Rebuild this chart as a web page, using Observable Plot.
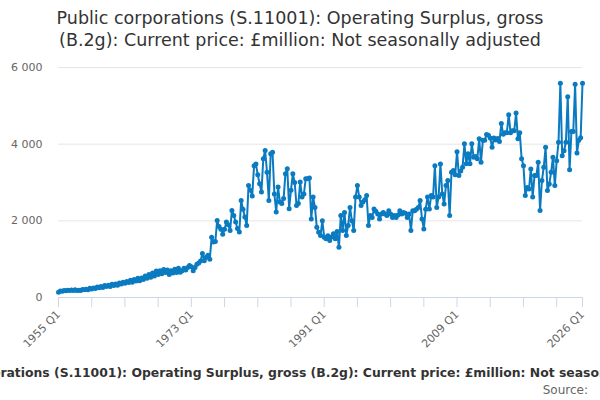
<!DOCTYPE html>
<html>
<head>
<meta charset="utf-8">
<script src="https://cdn.jsdelivr.net/npm/d3@7"></script>
<script src="https://cdn.jsdelivr.net/npm/@observablehq/plot@0.6"></script>
<style>
  html, body { margin: 0; padding: 0; background: #fff; }
  body { width: 600px; height: 400px; overflow: hidden; position: relative; font-family: "DejaVu Sans", sans-serif; }
  #title { position: absolute; left: 0; top: 7px; width: 600px; text-align: center; font-size: 17.5px; line-height: 22px; color: #333; }
  #chart { position: absolute; left: 0; top: 50px; }
  #caption { position: absolute; left: 306px; top: 365px; transform: translateX(-50%); white-space: nowrap; font-size: 12.4px; font-weight: bold; color: #333; }
  #source { position: absolute; right: 12px; top: 383px; font-size: 12px; color: #666; }
</style>
</head>
<body>
<div id="title">Public corporations (S.11001): Operating Surplus, gross<br>(B.2g): Current price: £million: Not seasonally adjusted</div>
<div id="chart"></div>
<div id="caption">Public corporations (S.11001): Operating Surplus, gross (B.2g): Current price: £million: Not seasonally adjusted</div>
<div id="source">Source:</div>
<script>
const firstYear = 1955;
const lastYear = 2026;
const quarterNames = ["Q1", "Q2", "Q3", "Q4"];
const labelledTicks = ["1955 Q1", "1973 Q1", "1991 Q1", "2009 Q1", "2026 Q1"];
const yTicks = [0, 2000, 4000, 6000];

// £million, quarterly, 1955 Q1 .. 2026 Q1
const values = [
  140,170,160,180, 175,190,180,195, 185,200,185,190, 180,210,200,215,
  205,240,225,250, 235,275,255,290, 260,310,285,320, 290,345,310,355,
  320,380,350,400, 370,420,390,450, 400,470,430,500, 440,510,470,560,
  500,600,530,640, 560,690,600,700, 620,730,650,720, 600,700,640,740,
  650,760,660,700, 760,720,780,835, 800,700,780,870, 900,950,1150,960,
  1050,1100,1000,1575, 1445,1460,2010,1850, 1780,1650,1780,1970, 1900,1750,2270,2140,
  1970,1800,1710,2530, 2300,2100,1880,2920, 2800,2650,3440,3480, 3200,2970,2750,3620,
  3835,3270,2530,3750, 3790,2700,2230,2880, 2490,2450,2580,3230, 3360,2315,2800,3230,
  3000,2400,2450,3010, 2620,2700,3100,3100, 3120,2050,2620,2350, 1830,1700,1620,2000,
  1570,1530,1610,1490, 1580,1660,1530,1720, 1310,2140,1750,2220, 1620,1880,2350,2000,
  1750,2620,2920,2620, 2400,2490,2550,2660, 1880,2140,2090,2310, 2250,2180,2050,2180,
  2220,2180,2140,2260, 2180,2090,2140,2090, 2150,2260,2180,2220, 2200,2090,2180,1750,
  2260,2260,2300,2350, 2530,2050,1790,2300, 2620,2310,2660,2620, 3440,2350,2620,3480,
  2700,2440,2920,3050, 2140,3270,3310,3200, 3800,3180,3300,3400, 4010,3490,3750,3490,
  4010,3660,3680,3620, 4140,3530,4100,4100, 4250,4230,4160,3920, 4160,4110,4150,4070,
  4540,4260,4300,4300, 4770,4300,4350,4350, 4810,4140,4300,3620, 3440,2660,2870,2830,
  3350,2620,3180,3180, 3530,2270,3050,3400, 3920,2790,2960,3270, 3660,2920,3570,4050,
  5590,3700,3830,4050, 5240,3330,4330,4330, 5560,3770,4100,4170,
  5590
];

const quarters = [];
for (let y = firstYear; y < lastYear; y++) for (const q of quarterNames) quarters.push(`${y} ${q}`);
quarters.push(`${lastYear} Q1`);

const data = quarters.map((q, i) => ({ quarter: q, value: values[i] })).filter(d => d.value != null);
const tickQuarters = quarters.filter((q, i) => i % 18 === 0 || i === quarters.length - 1);

const locale = d3.formatLocale({ decimal: ".", thousands: " ", grouping: [3], currency: ["£", ""] });
const fmt = locale.format(",");
const blue = "#0b7bc1";

const chart = Plot.plot({
  width: 600,
  height: 300,
  marginTop: 17,
  marginBottom: 53,
  marginLeft: 58,
  marginRight: 18,
  style: { fontFamily: "DejaVu Sans, sans-serif", fontSize: "11px", background: "white" },
  x: { type: "point", domain: quarters, padding: 0, axis: null },
  y: { domain: [0, 6000], axis: null },
  marks: [
    Plot.gridY(yTicks, { stroke: "#e6e6e6", strokeOpacity: 1 }),
    Plot.axisY(yTicks, { label: null, tickSize: 0, tickPadding: 16, tickFormat: fmt, fill: "#666", fontSize: 11 }),
    Plot.ruleY([0], { stroke: "#ccd6eb" }),
    Plot.axisX(tickQuarters, {
      label: null,
      tickSize: 10,
      tickPadding: 5,
      stroke: "#ccd6eb",
      strokeOpacity: 1,
      fill: "#666",
      fontSize: 11,
      tickRotate: -45,
      tickFormat: d => labelledTicks.includes(d) ? d : ""
    }),
    Plot.line(data, { x: "quarter", y: "value", stroke: blue, strokeWidth: 2 }),
    Plot.dot(data, { x: "quarter", y: "value", r: 2.5, fill: blue, stroke: "none" })
  ]
});
document.getElementById("chart").appendChild(chart);
</script>
</body>
</html>
